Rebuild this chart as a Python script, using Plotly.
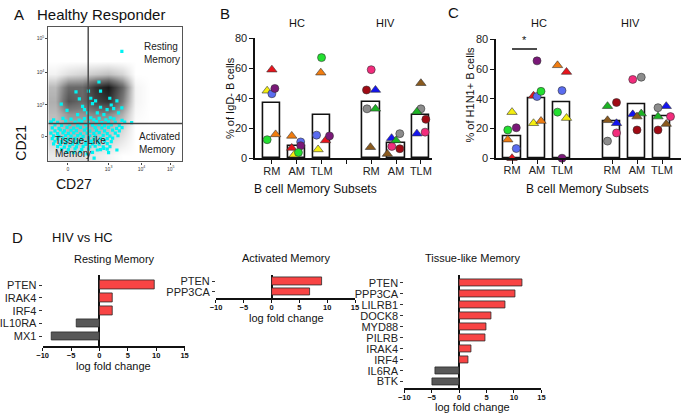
import plotly.graph_objects as go

W, H = 685, 418
def fx(p): return p / W
def fy(p): return 1 - p / H

FONT = "Liberation Sans, Arial, sans-serif"

# ---------------- DATA ----------------
# Panel A: coarse density grid (display units 0-100) and gated cyan events
dens_x = [5, 15, 25, 35, 45, 55, 65, 75, 85, 95]
dens_y = [5, 15, 25, 35, 45, 55, 65, 75, 85, 95]
dens_z = [
    [0.08, 0.12, 0.12, 0.08, 0.04, 0.00, 0, 0, 0, 0],
    [0.16, 0.24, 0.24, 0.20, 0.16, 0.08, 0, 0, 0, 0],
    [0.20, 0.30, 0.30, 0.30, 0.26, 0.16, 0, 0, 0, 0],
    [0.25, 0.40, 0.40, 0.45, 0.45, 0.30, 0.02, 0, 0, 0],
    [0.30, 0.68, 0.58, 0.76, 0.84, 0.50, 0.04, 0, 0, 0],
    [0.26, 0.58, 0.58, 0.84, 0.97, 0.60, 0.04, 0, 0, 0],
    [0.05, 0.12, 0.16, 0.20, 0.24, 0.16, 0.00, 0, 0, 0],
    [0, 0, 0, 0, 0, 0, 0, 0, 0, 0],
    [0, 0, 0, 0, 0, 0, 0, 0, 0, 0],
    [0, 0, 0, 0, 0, 0, 0, 0, 0, 0],
]
cyan_pts = [
    (54.9, 81.9), (37.8, 59.1), (20.7, 51.8), (30, 52.3), (39, 52.3), (45.9, 47), (23.2, 46.5),
    (31.7, 47), (35.3, 45), (51.2, 45), (9.7, 42.7), (25.6, 41), (39, 40.3), (43.9, 38.5),
    (48.8, 39.3), (54.9, 39.8), (29.3, 36.2), (36.6, 36.2), (21.9, 34.9), (41.5, 34.9),
    (52.4, 36.2), (31.7, 32.5), (46.3, 32.5), (62.2, 28.9), (2.4, 28.9), (34.2, 2.4),
    (36.6, 8.5), (51.2, 8.5), (41.5, 9.6), (14, 38), (33, 43), (47, 42), (27, 38.5),
    (4, 31), (11, 32), (17, 31.5), (23, 30.8), (27, 31.8), (34, 31), (38, 32), (43, 31), (49, 31.6), (55, 30.5),
    (2, 29.5), (7, 29), (13, 30), (20, 29.2), (25, 29.8), (30, 29), (36, 29.6), (40, 28.8), (45, 29.4), (50, 29), (57, 29.3),
    (5, 27.2), (10, 26.8), (16, 27.5), (22, 26.6), (28, 27.3), (33, 26.9), (38, 27.4), (42, 26.7), (47, 27.1), (53, 26.8),
    (3, 25), (8, 24.6), (14, 25.3), (19, 24.8), (24, 25.4), (29, 24.7), (35, 25.2), (40, 24.9), (45, 25.3), (51, 24.6), (55, 25.1),
    (5, 22.8), (9, 23.4), (12, 22.7), (17, 23.2), (21, 22.9), (27, 23.3), (31, 22.6), (36, 23.1), (42, 22.8), (48, 23.3), (53, 22.7),
    (2, 21), (7, 20.7), (11, 21.3), (15, 20.8), (19, 21.2), (24, 20.6), (29, 21.1), (34, 20.9), (38, 21.4), (44, 20.7), (50, 21),
    (4, 19), (8, 18.7), (13, 19.3), (17, 18.8), (22, 19.2), (26, 18.6), (31, 19.1), (35, 18.9), (41, 19.4), (46, 18.8), (52, 19.1),
    (3, 17), (7, 16.8), (11, 17.3), (15, 16.7), (20, 17.2), (25, 16.9), (30, 17.4), (34, 16.6), (39, 17.1), (44, 16.9), (48, 17.3),
    (5, 15), (10, 14.7), (14, 15.3), (19, 14.8), (23, 15.2), (28, 14.6), (32, 15.1), (37, 14.9), (42, 15.3), (47, 14.7),
    (4, 13), (9, 12.7), (13, 13.3), (18, 12.8), (22, 13.2), (28, 12.6), (33, 13.1), (38, 12.9), (44, 13.2),
    (7, 11), (12, 10.7), (16, 11.3), (21, 10.8), (26, 11.2), (31, 10.9), (35, 11.3), (41, 10.8), (46, 11),
    (10, 9), (15, 8.7), (20, 9.3), (25, 8.8), (30, 9.2), (39, 8.7), (44, 9.1),
    (14, 7), (19, 6.5), (24, 7.2), (33, 6.8), (45, 6.6), (29, 5.5),
]
cyan_x = [p[0] for p in cyan_pts]
cyan_y = [p[1] for p in cyan_pts]
gate_cd27 = 29.8
gate_cd21 = 28.2
a_xtickvals = [14.6, 45, 69.5, 91.4]
a_xticktext = ["0", "10<sup>3</sup>", "10<sup>4</sup>", "10<sup>5</sup>"]
a_ytickvals = [18.8, 42, 66.5, 91.8]
a_yticktext = ["0", "10<sup>3</sup>", "10<sup>4</sup>", "10<sup>5</sup>"]

# Panels B/C
subsets = ["RM", "AM", "TLM"]
groups = ["HC", "HIV"]

hc_donors = ["red", "yellow", "blue", "purple", "green", "orange"]
hiv_donors = ["pink", "darkred", "bluetri", "gray", "greentri", "brown"]

# % of IgD- B cells, per donor [RM, AM, TLM]
B_hc = {"red": [59, 7, 12], "yellow": [45, 2.5, 6], "blue": [43, 11, 15.5],
        "purple": [46.5, 8.5, 15], "green": [12.5, 4, 67], "orange": [16, 15, 57]}
B_hiv = {"pink": [59, 8, 17.5], "darkred": [45.5, 6.5, 26], "bluetri": [45.5, 13.5, 16.5],
         "gray": [33, 16.5, 33], "greentri": [33, 12, 31], "brown": [7.5, 3, 50]}
B_mean_hc = [37, 8, 29]
B_mean_hiv = [37.5, 10, 29]
B_jit_hc = {"red": [0, -0.2, 0.16], "yellow": [-0.19, -0.1, -0.14], "blue": [0, 0.16, -0.2],
            "purple": [0.12, 0.16, 0.32], "green": [-0.19, 0.07, 0], "orange": [0.15, -0.2, -0.03]}
B_jit_hiv = {"pink": [0, -0.17, 0.17], "darkred": [-0.19, 0.15, 0.2], "bluetri": [0.17, -0.18, -0.16],
             "gray": [-0.17, 0.15, 0], "greentri": [0.17, 0, -0.16], "brown": [-0.03, -0.35, 0]}

# % of H1N1+ B cells
C_hc = {"red": [0, 42, 58], "yellow": [31, 23.5, 27], "blue": [6.5, 41.5, 45.5],
        "purple": [20.5, 65.5, 0], "green": [19, 45, 31], "orange": [12.5, 25, 62.5]}
C_hiv = {"pink": [17, 53, 28], "darkred": [37.5, 19, 19], "bluetri": [23.5, 29.5, 35],
         "gray": [11.5, 54.5, 34], "greentri": [35, 30, 28], "brown": [25.5, 28, 23]}
C_mean_hc = [15, 40.5, 37.5]
C_mean_hiv = [25, 36, 28]
C_jit_hc = {"red": [0, -0.14, 0.18], "yellow": [0, -0.14, 0.18], "blue": [0.17, 0, 0],
            "purple": [0.17, 0, 0], "green": [-0.17, 0.16, -0.18], "orange": [-0.17, 0.16, -0.18]}
C_jit_hiv = {"pink": [0.18, -0.17, 0.34], "darkred": [0.18, 0, -0.16], "bluetri": [0.18, -0.17, 0.17],
             "gray": [-0.18, 0.17, -0.16], "greentri": [-0.18, 0.17, -0.16], "brown": [-0.18, 0, 0.17]}
C_sig_value = 73.5

# Panel D: log fold change HIV vs HC
rm_genes = ["PTEN", "IRAK4", "IRF4", "IL10RA", "MX1"]
rm_lfc = [9.8, 2.3, 2.3, -4.0, -8.4]
am_genes = ["PTEN", "PPP3CA"]
am_lfc = [9.0, 6.9]
tlm_genes = ["PTEN", "PPP3CA", "LILRB1", "DOCK8", "MYD88", "PILRB", "IRAK4", "IRF4", "IL6RA", "BTK"]
tlm_lfc = [11.5, 10.3, 8.5, 5.8, 4.9, 4.85, 2.2, 1.6, -4.3, -4.9]
lfc_ticks = [-10, -5, 0, 5, 10, 15]

# ---------------- STYLES ----------------
donor_style = {
    "red": ("#e8141c", "triangle-up"), "yellow": ("#f4ee10", "triangle-up"),
    "blue": ("#5a6cf0", "circle"), "purple": ("#7a1878", "circle"),
    "green": ("#22e030", "circle"), "orange": ("#f07c10", "triangle-up"),
    "pink": ("#f22c7c", "circle"), "darkred": ("#a00a14", "circle"),
    "bluetri": ("#1414f0", "triangle-up"), "gray": ("#8c8c8c", "circle"),
    "greentri": ("#1cb424", "triangle-up"), "brown": ("#8a5a1e", "triangle-up"),
}

fig = go.Figure()

# ---------- Panel A ----------
fig.add_trace(go.Heatmap(x=dens_x, y=dens_y, z=dens_z, zsmooth="best", zmin=0, zmax=1,
                         colorscale=[[0, "white"], [0.5, "#7a7a7a"], [1, "#121212"]],
                         showscale=False, xaxis="x", yaxis="y", hoverinfo="skip"))
fig.add_trace(go.Scatter(x=cyan_x, y=cyan_y, mode="markers", xaxis="x", yaxis="y",
                         marker=dict(symbol="square", size=3.2, color="#00f2f2", line=dict(width=0))))

# ---------- Panels B and C ----------
def add_group_panel(xa, ya, hc_vals, hiv_vals, mean_hc, mean_hiv, jit_hc, jit_hiv):
    pos_hc = [i for i in range(len(subsets))]
    pos_hiv = [i + len(subsets) + 1 for i in range(len(subsets))]
    fig.add_trace(go.Bar(x=pos_hc + pos_hiv, y=mean_hc + mean_hiv, width=0.7,
                         marker=dict(color="white", line=dict(color="#111", width=1.6)),
                         xaxis=xa, yaxis=ya))
    for donors, vals, jit, pos in ((hc_donors, hc_vals, jit_hc, pos_hc),
                                   (hiv_donors, hiv_vals, jit_hiv, pos_hiv)):
        for d in donors:
            col, sym = donor_style[d]
            fig.add_trace(go.Scatter(
                x=[p + j for p, j in zip(pos, jit[d])], y=vals[d], mode="markers",
                xaxis=xa, yaxis=ya, cliponaxis=False,
                marker=dict(color=col, symbol=sym, size=9 if sym.startswith("triangle") else 8,
                            line=dict(color="#333", width=0.6))))

add_group_panel("x2", "y2", B_hc, B_hiv, B_mean_hc, B_mean_hiv, B_jit_hc, B_jit_hiv)
add_group_panel("x3", "y3", C_hc, C_hiv, C_mean_hc, C_mean_hiv, C_jit_hc, C_jit_hiv)

# ---------- Panel D ----------
def add_lfc(xa, ya, genes, vals):
    fig.add_trace(go.Bar(y=genes, x=vals, orientation="h", width=0.68, xaxis=xa, yaxis=ya,
                         marker=dict(color=["#f84444" if v > 0 else "#585858" for v in vals],
                                     line=dict(color="#2a2a2a", width=0.8))))

add_lfc("x4", "y4", rm_genes, rm_lfc)
add_lfc("x5", "y5", am_genes, am_lfc)
add_lfc("x6", "y6", tlm_genes, tlm_lfc)

# ---------------- LAYOUT ----------------
tf = dict(family=FONT, size=11, color="#222")

def bc_xaxis(dom, rng, tickvals, ticktext, anchor):
    return dict(domain=dom, range=rng, anchor=anchor, showgrid=False, zeroline=False,
                showline=True, linecolor="#111", linewidth=1.8, ticks="outside", ticklen=4,
                tickwidth=1.3, tickcolor="#111", tickmode="array", tickvals=tickvals,
                ticktext=ticktext, tickfont=tf, ticklabelstandoff=-3)

def bc_yaxis(dom, anchor):
    return dict(domain=dom, range=[0, 80], anchor=anchor, showgrid=False, zeroline=False,
                showline=True, linecolor="#111", linewidth=1.8, ticks="outside", ticklen=4,
                tickwidth=1.3, tickcolor="#111", tickmode="array", tickvals=[0, 20, 40, 60, 80],
                tickfont=tf)

def d_xaxis(dom, anchor):
    return dict(domain=dom, range=[-10, 15], anchor=anchor, showgrid=False,
                zeroline=True, zerolinecolor="#111", zerolinewidth=1.5,
                showline=True, linecolor="#111", linewidth=1.5, ticks="outside", ticklen=3,
                tickcolor="#111", tickmode="array", tickvals=lfc_ticks, ticklabelstandoff=-2,
                tickfont=dict(family=FONT, size=7.5, color="#111", weight="bold"))

def d_yaxis(dom, anchor, genes, top_pad, bot_pad):
    n = len(genes)
    return dict(domain=dom, type="category", categoryorder="array", categoryarray=genes,
                tickmode="array", tickvals=genes, ticktext=genes,
                range=[n - 1 + bot_pad, -top_pad], anchor=anchor, showgrid=False, zeroline=False,
                showline=False, ticks="outside", ticklen=3, tickcolor="#333",
                tickfont=dict(family=FONT, size=11, color="#222"))

layout = dict(
    width=W, height=H, margin=dict(l=0, r=0, t=0, b=0), showlegend=False,
    paper_bgcolor="white", plot_bgcolor="white", bargap=0,
    xaxis=dict(domain=[fx(40), fx(176.7)], range=[0, 100], anchor="y", showgrid=False, zeroline=False,
               showline=True, mirror=True, linecolor="#555", linewidth=1.2, ticks="outside", ticklen=2,
               tickmode="array", tickvals=a_xtickvals, ticktext=a_xticktext,
               tickfont=dict(family=FONT, size=5, color="#333")),
    yaxis=dict(domain=[fy(160), fy(21.7)], range=[0, 100], anchor="x", showgrid=False, zeroline=False,
               showline=True, mirror=True, linecolor="#555", linewidth=1.2, ticks="outside", ticklen=2,
               tickmode="array", tickvals=a_ytickvals, ticktext=a_yticktext,
               tickfont=dict(family=FONT, size=5, color="#333")),
    xaxis2=bc_xaxis([fx(251), fx(431)], [-0.67, 6.44], [0, 1, 2, 3, 4, 5, 6],
                    subsets + [" "] + subsets, "y2"),
    yaxis2=bc_yaxis([fy(157), fy(33)], "x2"),
    xaxis3=bc_xaxis([fx(496.7), fx(685)], [-0.63, 6.76], [0, 1, 2, 4, 5, 6],
                    subsets + subsets, "y3"),
    yaxis3=bc_yaxis([fy(156.7), fy(34.3)], "x3"),
    xaxis4=d_xaxis([fx(34.3), fx(179)], "y4"),
    yaxis4=d_yaxis([fy(350), fy(277.3)], "x4", rm_genes, 0.76, 0.76),
    xaxis5=d_xaxis([fx(211), fx(352.7)], "y5"),
    yaxis5=d_yaxis([fy(300.7), fy(277.3)], "x5", am_genes, 0.57, 0.58),
    xaxis6=d_xaxis([fx(403), fx(542.7)], "y6"),
    yaxis6=d_yaxis([fy(393.3), fy(277.3)], "x6", tlm_genes, 0.68, 0.58),
)
fig.update_layout(**layout)

# gate lines in panel A
fig.add_shape(type="line", xref="x", yref="y", x0=gate_cd27, x1=gate_cd27, y0=0, y1=100,
              line=dict(color="#444", width=1.4))
fig.add_shape(type="line", xref="x", yref="y", x0=0, x1=100, y0=gate_cd21, y1=gate_cd21,
              line=dict(color="#444", width=1.4))
# significance bar in C
fig.add_shape(type="line", xref="x3", yref="y3", x0=0, x1=1, y0=C_sig_value, y1=C_sig_value,
              line=dict(color="#111", width=1.3))

def ann(text, x, y, size=11, xanchor="center", yanchor="middle", angle=0, ref="paper", **kw):
    d = dict(text=text, showarrow=False, xanchor=xanchor, yanchor=yanchor, textangle=angle,
             font=dict(family=FONT, size=size, color=kw.pop("color", "#111")))
    if ref == "paper":
        d.update(xref="paper", yref="paper", x=fx(x), y=fy(y))
    else:
        d.update(xref=ref[0], yref=ref[1], x=x, y=y)
    d.update(kw)
    fig.add_annotation(**d)

# Panel A texts
ann("A", 10, 9, size=15)
ann("Healthy Responder", 94, 9, size=15)
ann("CD21", 12, 141, size=14, angle=-90)
ann("CD27", 66, 183, size=14)
ann("Resting<br>Memory", 70, 81, size=10, xanchor="left", ref=("x", "y"), align="left", color="#222")
ann("Activated<br>Memory", 66, 14, size=10, xanchor="left", ref=("x", "y"), align="left", color="#222")
ann("Tissue-Like<br>Memory", 3.5, 11, size=10, xanchor="left", ref=("x", "y"), align="left", color="#222")

# Panel B texts
ann("B", 220, 8, size=15)
ann(groups[0], 294, 17, size=11)
ann(groups[1], 384, 17, size=11)
ann("% of IgD- B cells", 226, 95, size=11, angle=-90)
ann("B cell Memory Subsets", 312, 188, size=12)

# Panel C texts
ann("C", 453, 7, size=15)
ann(groups[0], 540, 17, size=11)
ann(groups[1], 634, 17, size=11)
ann("% of H1N1+ B cells", 470, 91, size=11, angle=-90)
ann("B cell Memory Subsets", 590, 188, size=12)
ann("*", 0.5, C_sig_value + 0.5, size=11, yanchor="bottom", ref=("x3", "y3"))

# Panel D texts
ann("D", 9, 238, size=15)
ann("HIV vs HC", 75, 238, size=13)
ann("Resting Memory", 107.5, 260, size=11)
ann("Activated Memory", 282.5, 259.5, size=11)
ann("Tissue-like Memory", 472.5, 259.5, size=11)
ann("log fold change", 106.7, 371, size=11)
ann("log fold change", 283, 321.5, size=11)
ann("log fold change", 472.7, 412.5, size=11)

fig.write_html("out.html", config={"displayModeBar": False},
               post_script="document.body.style.margin='0';document.body.style.overflow='hidden';")
